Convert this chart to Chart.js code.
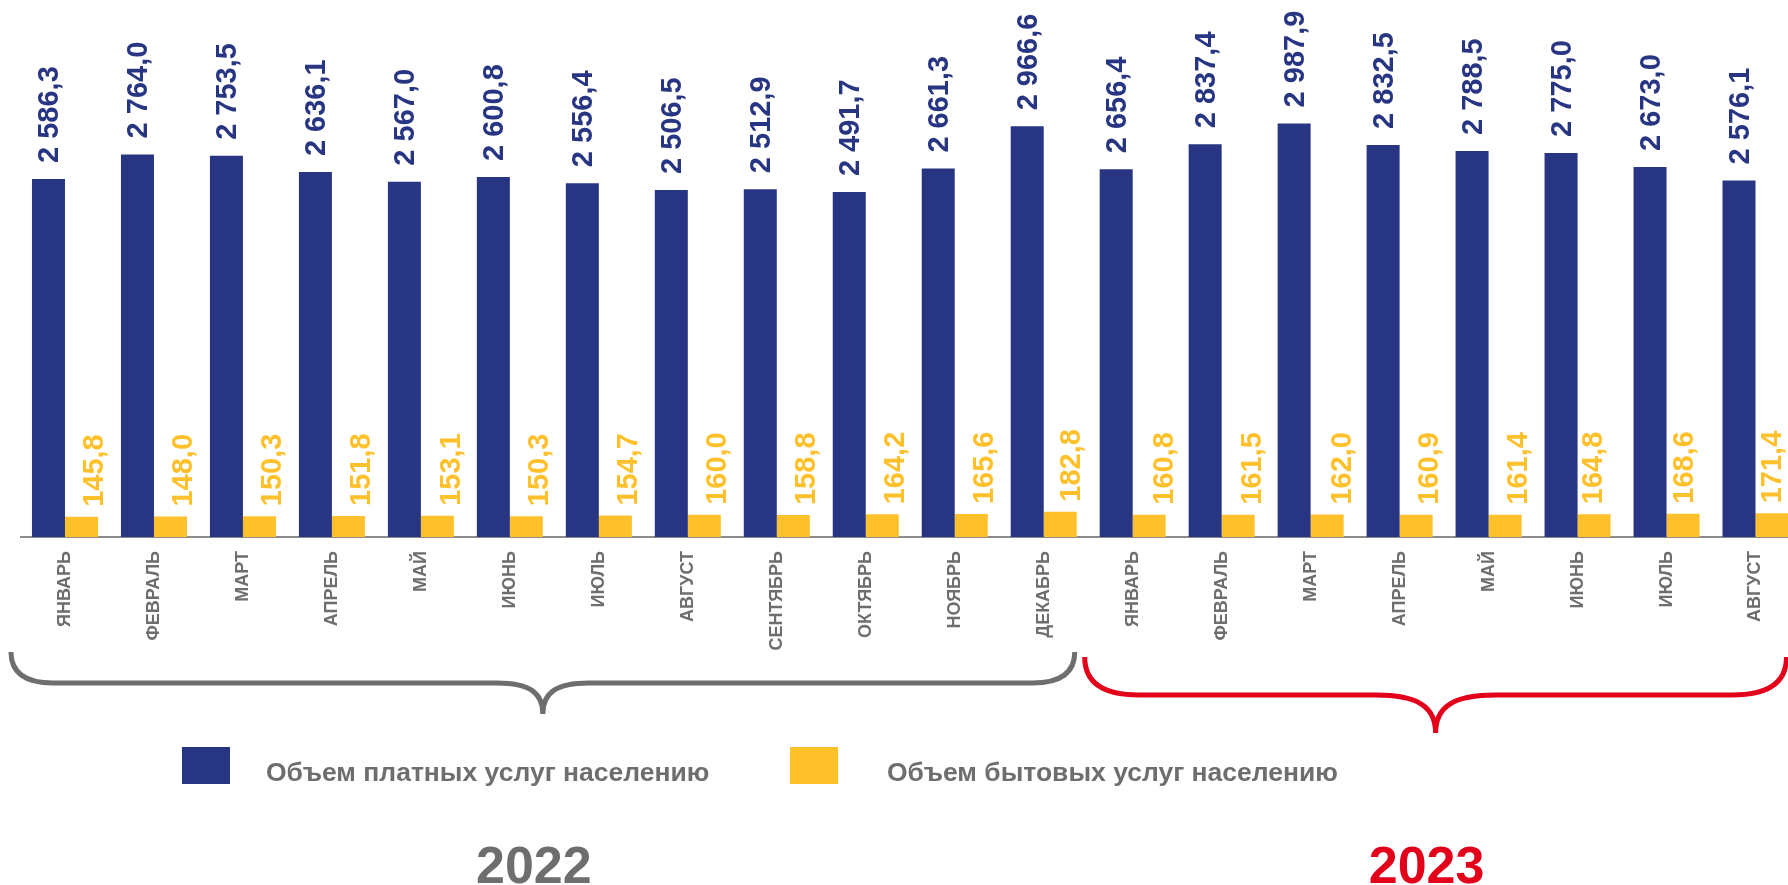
<!DOCTYPE html>
<html lang="ru">
<head>
<meta charset="utf-8">
<title>Объем платных и бытовых услуг населению</title>
<script src="https://cdn.jsdelivr.net/npm/chart.js@4.4.1/dist/chart.umd.min.js"></script>
<style>
    html, body { margin: 0; padding: 0; background: #fff; overflow: hidden; }
    #wrap { width: 1788px; height: 885px; overflow: hidden; position: relative; }
    #chart { position: absolute; left: 0; top: 0; }
</style>
</head>
<body>
<div id="wrap"><canvas id="chart" width="1800" height="885"></canvas></div>
<script>
// === DATA ===
const months = [
    'ЯНВАРЬ', 'ФЕВРАЛЬ', 'МАРТ', 'АПРЕЛЬ', 'МАЙ', 'ИЮНЬ', 'ИЮЛЬ', 'АВГУСТ',
    'СЕНТЯБРЬ', 'ОКТЯБРЬ', 'НОЯБРЬ', 'ДЕКАБРЬ',
    'ЯНВАРЬ', 'ФЕВРАЛЬ', 'МАРТ', 'АПРЕЛЬ', 'МАЙ', 'ИЮНЬ', 'ИЮЛЬ', 'АВГУСТ'
];
const paidServices = [
    2586.3, 2764.0, 2753.5, 2636.1, 2567.0, 2600.8, 2556.4, 2506.5, 2512.9, 2491.7, 2661.3, 2966.6,
    2656.4, 2837.4, 2987.9, 2832.5, 2788.5, 2775.0, 2673.0, 2576.1
];
const householdServices = [
    145.8, 148.0, 150.3, 151.8, 153.1, 150.3, 154.7, 160.0, 158.8, 164.2, 165.6, 182.8,
    160.8, 161.5, 162.0, 160.9, 161.4, 164.8, 168.6, 171.4
];
const seriesNames = ['Объем платных услуг населению', 'Объем бытовых услуг населению'];
const years = ['2022', '2023'];
const monthsPerYear = [12, 8];

// === STYLE ===
const FONT = "'Liberation Sans', Arial, sans-serif";
const BLUE = '#283583';
const YELLOW = '#ffc12b';
const GREY = '#6e6e6e';
const RED = '#e2001a';
const yearColors = [GREY, RED];

// value label placement: [dx, gap] per series; the last three yellow labels sit over their bars
const labelGap = [16, 10];
const labelShift = [
    Array(20).fill(1.5),
    [14, 14, 14, 14, 15, 14, 13.5, 14, 13.5, 14, 14, 12, 16, 15, 16, 14, 14, 0, 2, 0.5]
];

// brace geometry per year group (pixels)
const braceStyle = [
    { padL: 54, padR: 31, top: 652, mid: 683, tip: 714, corner: 42, tipW: 46 },
    { padL: 48, padR: 31, top: 657, mid: 695, tip: 733, corner: 54, tipW: 60 }
];

function fmt(v) {
    const [i, d] = v.toFixed(1).split('.');
    return i.replace(/\B(?=(\d{3})+(?!\d))/g, ' ') + ',' + d;
}

// === OVERLAY: value labels, legend, braces, years ===
const overlay = {
    id: 'overlay',
    afterDatasetsDraw(chart) {
        const ctx = chart.ctx;
        chart.data.datasets.forEach((ds, di) => {
            const meta = chart.getDatasetMeta(di);
            ctx.save();
            ctx.font = `bold 29px ${FONT}`;
            ctx.fillStyle = ds.backgroundColor;
            ctx.textAlign = 'left';
            ctx.textBaseline = 'middle';
            meta.data.forEach((bar, i) => {
                ctx.save();
                ctx.translate(bar.x + labelShift[di][i], bar.y - labelGap[di]);
                ctx.rotate(-Math.PI / 2);
                ctx.fillText(fmt(ds.data[i]), 0, 0);
                ctx.restore();
            });
            ctx.restore();
        });
    },
    afterDraw(chart) {
        const ctx = chart.ctx;
        const x = chart.scales.x;

        // braces + year labels
        let start = 0;
        years.forEach((yr, gi) => {
            const b = braceStyle[gi];
            const end = start + monthsPerYear[gi] - 1;
            const L = x.getPixelForValue(start) - b.padL;
            const R = x.getPixelForValue(end) + b.padR;
            const C = (L + R) / 2;
            ctx.save();
            ctx.strokeStyle = yearColors[gi];
            ctx.lineWidth = 5;
            ctx.beginPath();
            ctx.moveTo(L, b.top);
            ctx.quadraticCurveTo(L, b.mid, L + b.corner, b.mid);
            ctx.lineTo(C - b.tipW, b.mid);
            ctx.bezierCurveTo(C - b.tipW * 0.3, b.mid, C, b.mid + (b.tip - b.mid) * 0.3, C, b.tip);
            ctx.bezierCurveTo(C, b.mid + (b.tip - b.mid) * 0.3, C + b.tipW * 0.3, b.mid, C + b.tipW, b.mid);
            ctx.lineTo(R - b.corner, b.mid);
            ctx.quadraticCurveTo(R, b.mid, R, b.top);
            ctx.stroke();

            ctx.fillStyle = yearColors[gi];
            ctx.font = `bold 52px ${FONT}`;
            ctx.textAlign = 'center';
            ctx.textBaseline = 'alphabetic';
            ctx.fillText(yr, C - 9, 883);
            ctx.restore();
            start = end + 1;
        });

        // legend
        const legendPos = [
            { box: 182, text: 266 },
            { box: 790, text: 887 }
        ];
        chart.data.datasets.forEach((ds, di) => {
            const p = legendPos[di];
            ctx.save();
            ctx.fillStyle = ds.backgroundColor;
            ctx.fillRect(p.box, 747, 48, 37);
            ctx.fillStyle = GREY;
            ctx.font = `bold 26.5px ${FONT}`;
            ctx.textAlign = 'left';
            ctx.textBaseline = 'middle';
            ctx.fillText(ds.label, p.text, 774);
            ctx.restore();
        });
    }
};

// === CHART ===
new Chart(document.getElementById('chart'), {
    type: 'bar',
    data: {
        labels: months,
        datasets: [
            { label: seriesNames[0], data: paidServices, backgroundColor: BLUE },
            { label: seriesNames[1], data: householdServices, backgroundColor: YELLOW }
        ]
    },
    options: {
        responsive: false,
        animation: false,
        devicePixelRatio: 1,
        layout: { padding: { left: 20.5, right: 0, top: 11, bottom: 0 } },
        datasets: { bar: { categoryPercentage: 0.742, barPercentage: 1.0 } },
        plugins: { legend: { display: false }, tooltip: { enabled: false } },
        scales: {
            x: {
                grid: { display: false, drawTicks: false },
                border: { display: true, color: '#8c8c8c', width: 2 },
                ticks: {
                    autoSkip: false, minRotation: 90, maxRotation: 90, padding: 14,
                    color: GREY, font: { family: FONT, size: 18, weight: 'bold' }
                },
                afterFit: axis => { axis.height = 885 - 537; }
            },
            y: { display: false, min: 0, max: 3800 }
        }
    },
    plugins: [overlay]
});
</script>
</body>
</html>
